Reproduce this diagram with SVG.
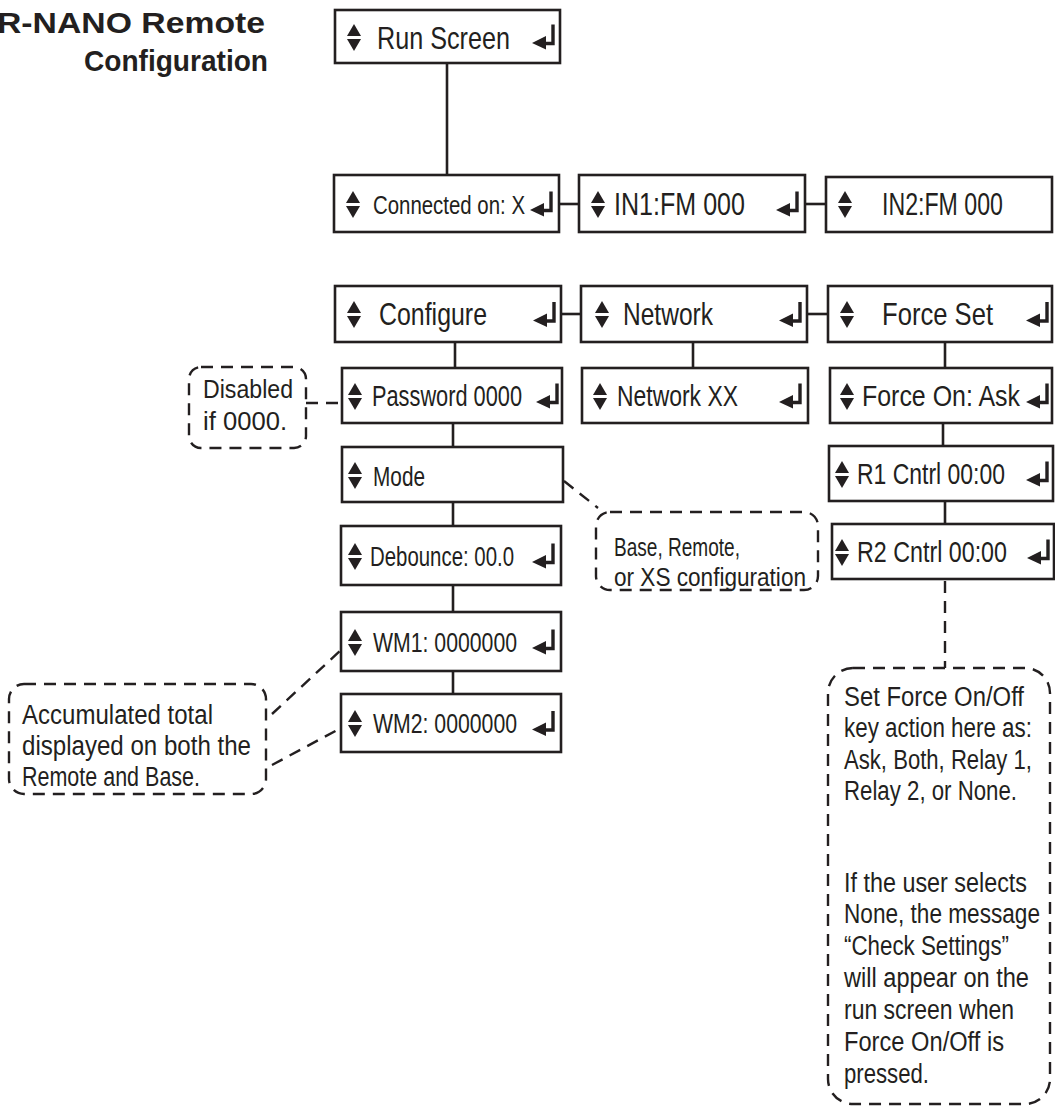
<svg xmlns="http://www.w3.org/2000/svg" xmlns:xlink="http://www.w3.org/1999/xlink" width="1055" height="1119" viewBox="0 0 1055 1119">
<style>
.box{fill:#fff;stroke:#231f20;stroke-width:2.6}
.t{font-family:"Liberation Sans",Arial,sans-serif;fill:#231f20}
.title{font-family:"Liberation Sans",Arial,sans-serif;font-weight:bold;font-size:30px;fill:#231f20}
.con{stroke:#231f20;stroke-width:2.6;fill:none}
.dash{stroke:#231f20;stroke-width:2.4;fill:none;stroke-dasharray:12 8}
.note{fill:#fff;stroke:#231f20;stroke-width:2.4;stroke-dasharray:12 8}
</style>
<defs>
<g id="ud"><polygon points="7,0 0,12 14,12" fill="#231f20"/><polygon points="0,15 14,15 7,27" fill="#231f20"/></g>
<g id="ent"><path d="M0,-12 V7 H-8" fill="none" stroke="#231f20" stroke-width="3.4"/><polygon points="-21,6.5 -7,-0.5 -7,13" fill="#231f20"/></g>
</defs>
<rect width="1055" height="1119" fill="#fff"/>
<g id="title">
<text class="title" x="-3" y="33" textLength="268" lengthAdjust="spacingAndGlyphs">R-NANO Remote</text>
<text class="title" x="84" y="71" textLength="184" lengthAdjust="spacingAndGlyphs">Configuration</text>
</g>
<g id="connectors">
<line class="con" x1="447" y1="63" x2="447" y2="175"/>
<line class="con" x1="559" y1="204" x2="579" y2="204"/>
<line class="con" x1="805" y1="204" x2="826" y2="204"/>
<line class="con" x1="561" y1="314" x2="581" y2="314"/>
<line class="con" x1="807" y1="314" x2="828" y2="314"/>
<line class="con" x1="455" y1="342" x2="455" y2="368"/>
<line class="con" x1="693" y1="342" x2="693" y2="368"/>
<line class="con" x1="945" y1="342" x2="945" y2="368"/>
<line class="con" x1="453" y1="423" x2="453" y2="447"/>
<line class="con" x1="453" y1="502" x2="453" y2="526"/>
<line class="con" x1="453" y1="585" x2="453" y2="612"/>
<line class="con" x1="453" y1="671" x2="453" y2="694"/>
<line class="con" x1="943" y1="423" x2="943" y2="446"/>
<line class="con" x1="945" y1="501" x2="945" y2="524"/>
<line class="dash" x1="945" y1="581" x2="945" y2="668"/>
<line class="dash" x1="306" y1="403" x2="342" y2="403"/>
<line class="dash" x1="564" y1="481" x2="598" y2="508"/>
<line class="dash" x1="272" y1="714" x2="341" y2="650"/>
<line class="dash" x1="272" y1="765" x2="341" y2="728"/>
</g>
<g id="run-screen">
<rect class="box" x="335" y="10" width="225" height="53"/>
<use href="#ud" x="347" y="24"/>
<text class="t" x="377" y="49" font-size="32" textLength="133" lengthAdjust="spacingAndGlyphs">Run Screen</text>
<use href="#ent" transform="translate(553,36.5)"/>
</g>
<g id="connected-on">
<rect class="box" x="334" y="175" width="225" height="57"/>
<use href="#ud" x="346" y="191"/>
<text class="t" x="373" y="214" font-size="25" textLength="152" lengthAdjust="spacingAndGlyphs">Connected on: X</text>
<use href="#ent" transform="translate(551,203.5)"/>
</g>
<g id="in1">
<rect class="box" x="579" y="175" width="226" height="57"/>
<use href="#ud" x="591" y="191"/>
<text class="t" x="614" y="215" font-size="32" textLength="131" lengthAdjust="spacingAndGlyphs">IN1:FM 000</text>
<use href="#ent" transform="translate(797,203.5)"/>
</g>
<g id="in2">
<rect class="box" x="826" y="177" width="226" height="55"/>
<use href="#ud" x="838" y="191"/>
<text class="t" x="882" y="215" font-size="31" textLength="121" lengthAdjust="spacingAndGlyphs">IN2:FM 000</text>
</g>
<g id="configure">
<rect class="box" x="335" y="286" width="226" height="56"/>
<use href="#ud" x="347" y="301"/>
<text class="t" x="379" y="325" font-size="32" textLength="108" lengthAdjust="spacingAndGlyphs">Configure</text>
<use href="#ent" transform="translate(554,314)"/>
</g>
<g id="network">
<rect class="box" x="581" y="286" width="226" height="56"/>
<use href="#ud" x="595" y="301"/>
<text class="t" x="623" y="325" font-size="32" textLength="90" lengthAdjust="spacingAndGlyphs">Network</text>
<use href="#ent" transform="translate(800,314)"/>
</g>
<g id="force-set">
<rect class="box" x="828" y="286" width="224" height="56"/>
<use href="#ud" x="840" y="301"/>
<text class="t" x="882" y="325" font-size="32" textLength="111" lengthAdjust="spacingAndGlyphs">Force Set</text>
<use href="#ent" transform="translate(1047,314)"/>
</g>
<g id="password">
<rect class="box" x="342" y="368" width="220" height="55"/>
<use href="#ud" x="348" y="383"/>
<text class="t" x="372" y="406" font-size="30" textLength="150" lengthAdjust="spacingAndGlyphs">Password 0000</text>
<use href="#ent" transform="translate(557,395.5)"/>
</g>
<g id="network-xx">
<rect class="box" x="582" y="368" width="226" height="55"/>
<use href="#ud" x="593" y="383"/>
<text class="t" x="617" y="406" font-size="30" textLength="121" lengthAdjust="spacingAndGlyphs">Network XX</text>
<use href="#ent" transform="translate(800,395.5)"/>
</g>
<g id="force-on">
<rect class="box" x="830" y="368" width="222" height="55"/>
<use href="#ud" x="840" y="383"/>
<text class="t" x="862" y="406" font-size="30" textLength="158" lengthAdjust="spacingAndGlyphs">Force On: Ask</text>
<use href="#ent" transform="translate(1047,395.5)"/>
</g>
<g id="mode">
<rect class="box" x="342" y="447" width="221" height="55"/>
<use href="#ud" x="348" y="462"/>
<text class="t" x="373" y="486" font-size="28" textLength="52" lengthAdjust="spacingAndGlyphs">Mode</text>
</g>
<g id="debounce">
<rect class="box" x="341" y="526" width="220" height="59"/>
<use href="#ud" x="348" y="543"/>
<text class="t" x="370" y="566" font-size="28" textLength="144" lengthAdjust="spacingAndGlyphs">Debounce: 00.0</text>
<use href="#ent" transform="translate(553,555.5)"/>
</g>
<g id="wm1">
<rect class="box" x="341" y="612" width="220" height="59"/>
<use href="#ud" x="348" y="629"/>
<text class="t" x="373" y="652" font-size="28" textLength="144" lengthAdjust="spacingAndGlyphs">WM1: 0000000</text>
<use href="#ent" transform="translate(553,641.5)"/>
</g>
<g id="wm2">
<rect class="box" x="341" y="694" width="220" height="58"/>
<use href="#ud" x="348" y="710"/>
<text class="t" x="373" y="733" font-size="28" textLength="144" lengthAdjust="spacingAndGlyphs">WM2: 0000000</text>
<use href="#ent" transform="translate(553,723)"/>
</g>
<g id="r1-cntrl">
<rect class="box" x="829" y="446" width="224" height="55"/>
<use href="#ud" x="835" y="461"/>
<text class="t" x="857" y="484" font-size="30" textLength="148" lengthAdjust="spacingAndGlyphs">R1 Cntrl 00:00</text>
<use href="#ent" transform="translate(1047,473.5)"/>
</g>
<g id="r2-cntrl">
<rect class="box" x="832" y="524" width="222" height="55"/>
<use href="#ud" x="835" y="539"/>
<text class="t" x="857" y="562" font-size="30" textLength="150" lengthAdjust="spacingAndGlyphs">R2 Cntrl 00:00</text>
<use href="#ent" transform="translate(1048,551.5)"/>
</g>
<g id="note-disabled">
<rect class="note" x="189" y="367" width="117" height="81" rx="12"/>
<text class="t" x="203" y="398" font-size="25" textLength="90" lengthAdjust="spacingAndGlyphs">Disabled</text>
<text class="t" x="203" y="430" font-size="25" textLength="84" lengthAdjust="spacingAndGlyphs">if 0000.</text>
</g>
<g id="note-mode">
<rect class="note" x="596" y="512" width="222" height="78" rx="14"/>
<text class="t" x="614" y="556" font-size="25" textLength="126" lengthAdjust="spacingAndGlyphs">Base, Remote,</text>
<text class="t" x="614" y="586" font-size="25" textLength="192" lengthAdjust="spacingAndGlyphs">or XS configuration</text>
</g>
<g id="note-accumulated">
<rect class="note" x="9" y="684" width="257" height="110" rx="15"/>
<text class="t" x="22" y="724" font-size="27" textLength="191" lengthAdjust="spacingAndGlyphs">Accumulated total</text>
<text class="t" x="22" y="755" font-size="27" textLength="229" lengthAdjust="spacingAndGlyphs">displayed on both the</text>
<text class="t" x="22" y="786" font-size="27" textLength="178" lengthAdjust="spacingAndGlyphs">Remote and Base.</text>
</g>
<g id="note-force">
<rect class="note" x="828" y="668" width="222" height="436" rx="25"/>
<text class="t" x="844" y="706" font-size="27" textLength="180" lengthAdjust="spacingAndGlyphs">Set Force On/Off</text>
<text class="t" x="844" y="737" font-size="27" textLength="188" lengthAdjust="spacingAndGlyphs">key action here as:</text>
<text class="t" x="844" y="769" font-size="27" textLength="188" lengthAdjust="spacingAndGlyphs">Ask, Both, Relay 1,</text>
<text class="t" x="844" y="800" font-size="27" textLength="173" lengthAdjust="spacingAndGlyphs">Relay 2, or None.</text>
<text class="t" x="844" y="892" font-size="27" textLength="183" lengthAdjust="spacingAndGlyphs">If the user selects</text>
<text class="t" x="844" y="923" font-size="27" textLength="196" lengthAdjust="spacingAndGlyphs">None, the message</text>
<text class="t" x="844" y="955" font-size="27" textLength="165" lengthAdjust="spacingAndGlyphs">“Check Settings”</text>
<text class="t" x="844" y="987" font-size="27" textLength="185" lengthAdjust="spacingAndGlyphs">will appear on the</text>
<text class="t" x="844" y="1019" font-size="27" textLength="170" lengthAdjust="spacingAndGlyphs">run screen when</text>
<text class="t" x="844" y="1051" font-size="27" textLength="160" lengthAdjust="spacingAndGlyphs">Force On/Off is</text>
<text class="t" x="844" y="1083" font-size="27" textLength="85" lengthAdjust="spacingAndGlyphs">pressed.</text>
</g>
</svg>
